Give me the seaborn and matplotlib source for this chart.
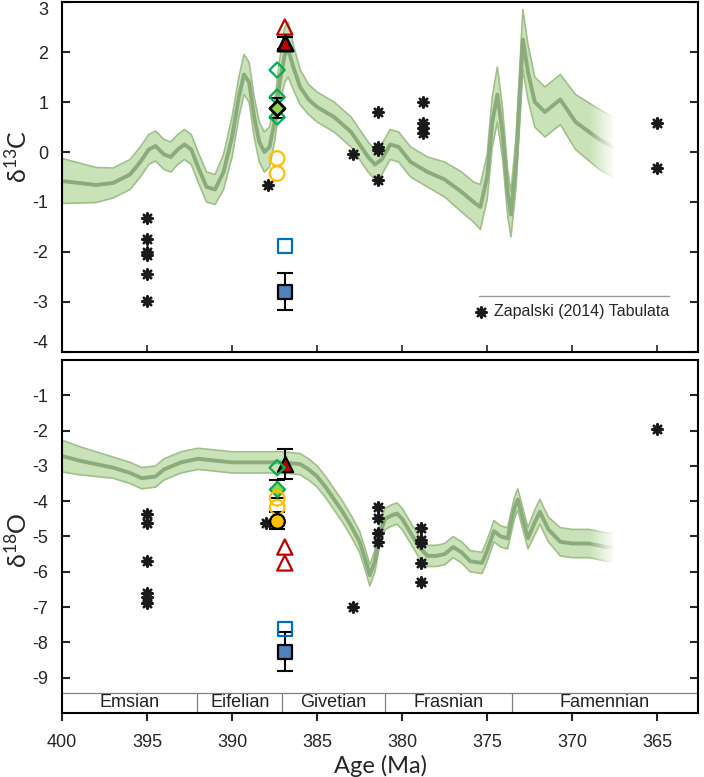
import matplotlib
matplotlib.use("Agg")
import matplotlib.pyplot as plt
import seaborn as sns
import numpy as np

# curba d13C (varsta Ma, centru, semi-latime banda)
c_age = [400.0, 399.0, 398.0, 397.0, 396.0, 395.4, 394.9, 394.5, 394.0, 393.6, 393.2, 392.8,
         392.4, 392.0, 391.5, 391.0, 390.5, 390.0, 389.6, 389.3, 389.0, 388.7, 388.4, 388.1,
         387.8, 387.5, 387.2, 386.9, 386.7, 386.4, 386.0, 385.5, 385.0, 384.5, 384.0, 383.5,
         383.0, 382.5, 382.0, 381.6, 381.2, 380.7, 380.2, 379.5, 378.5, 377.5, 376.5, 375.8,
         375.4, 375.0, 374.7, 374.4, 374.1, 373.8, 373.6, 373.3, 372.9, 372.6, 372.2, 371.6,
         370.7, 369.8, 368.4, 367.6]
c_mid = [-0.58, -0.62, -0.66, -0.62, -0.45, -0.2, 0.05, 0.12, -0.05, -0.1, 0.05, 0.15,
         0.05, -0.3, -0.7, -0.75, -0.4, 0.3, 1.1, 1.55, 1.4, 0.7, 0.2, 0.0,
         0.1, 0.6, 1.4, 1.95, 2.05, 1.7, 1.3, 1.05, 0.9, 0.8, 0.7, 0.55,
         0.4, 0.15, -0.1, -0.25, -0.15, 0.15, 0.1, -0.2, -0.4, -0.55, -0.8, -1.0,
         -1.1, -0.5, 0.6, 1.15, 0.4, -0.8, -1.25, -0.2, 2.25, 1.6, 1.0, 0.8,
         1.05, 0.6, 0.25, 0.1]
c_hw = [0.45, 0.4, 0.35, 0.3, 0.3, 0.3, 0.3, 0.3, 0.3, 0.3, 0.3, 0.3,
        0.3, 0.3, 0.3, 0.3, 0.35, 0.4, 0.4, 0.4, 0.4, 0.4, 0.4, 0.4,
        0.4, 0.4, 0.45, 0.55, 0.55, 0.45, 0.35, 0.3, 0.3, 0.3, 0.3, 0.3,
        0.3, 0.3, 0.3, 0.3, 0.3, 0.3, 0.3, 0.3, 0.3, 0.35, 0.4, 0.4,
        0.45, 0.45, 0.5, 0.55, 0.5, 0.45, 0.45, 0.5, 0.6, 0.55, 0.5, 0.5,
        0.5, 0.55, 0.6, 0.6]

# curba d18O
o_age = [400.0, 399.0, 398.0, 397.0, 396.0, 395.3, 394.5, 394.0, 393.0, 392.0, 391.0, 390.0,
         389.0, 388.0, 387.0, 386.0, 385.5, 385.0, 384.5, 384.0, 383.5, 383.0, 382.5, 382.2,
         381.9, 381.6, 381.3, 381.0, 380.6, 380.3, 380.0, 379.5, 379.0, 378.5, 378.0, 377.5,
         377.0, 376.5, 376.0, 375.3, 375.0, 374.6, 374.2, 373.8, 373.4, 373.2, 372.9, 372.6,
         372.2, 371.9, 371.4, 370.7, 370.0, 369.0, 368.0, 367.6]
o_mid = [-2.72, -2.85, -2.95, -3.05, -3.2, -3.35, -3.3, -3.1, -2.9, -2.8, -2.85, -2.9,
         -2.9, -2.9, -2.9, -2.95, -3.1, -3.3, -3.6, -3.95, -4.3, -4.7, -5.15, -5.6,
         -6.1, -5.7, -4.9, -4.5, -4.4, -4.35, -4.5, -4.9, -5.3, -5.55, -5.55, -5.5,
         -5.3, -5.45, -5.7, -5.75, -5.4, -4.85, -5.0, -5.05, -4.2, -3.95, -4.5, -5.05,
         -4.6, -4.3, -4.8, -5.15, -5.2, -5.2, -5.3, -5.3]
o_hw = [0.45, 0.4, 0.35, 0.3, 0.3, 0.3, 0.3, 0.3, 0.3, 0.3, 0.3, 0.3,
        0.3, 0.3, 0.3, 0.3, 0.3, 0.3, 0.3, 0.3, 0.3, 0.3, 0.3, 0.3,
        0.3, 0.3, 0.3, 0.3, 0.3, 0.3, 0.3, 0.3, 0.3, 0.3, 0.3, 0.3,
        0.3, 0.3, 0.3, 0.3, 0.3, 0.3, 0.3, 0.3, 0.3, 0.3, 0.3, 0.3,
        0.35, 0.35, 0.35, 0.4, 0.4, 0.4, 0.4, 0.4]

# Zapalski (2014) Tabulata
zc_age = [395, 395, 395, 395, 395, 395, 387.9, 382.9, 381.4, 381.4, 381.4, 381.4,
          378.8, 378.8, 378.8, 378.8, 365, 365]
zc_val = [-1.33, -1.75, -2.0, -2.06, -2.45, -2.98, -0.66, -0.03, 0.8, 0.1, 0.04, -0.56,
          1.0, 0.58, 0.48, 0.38, 0.58, -0.32]
zo_age = [395, 395, 395, 395, 395, 395, 388.0, 382.9, 381.4, 381.4, 381.4, 381.4,
          378.9, 378.9, 378.9, 378.9, 378.9, 365]
zo_val = [-4.35, -4.62, -5.7, -6.6, -6.72, -6.88, -4.63, -7.0, -4.17, -4.48, -4.9, -5.15,
          -4.76, -5.1, -5.19, -5.75, -6.3, -1.96]

# probe proprii (valori)
tri_open_c = [2.5]
tri_fill_c = [2.18]
dia_open_c = [1.64, 1.1, 0.7]
dia_fill_c = [0.88]
circ_open_c = [-0.13, -0.43]
sq_open_c = [-1.88]
sq_fill_c = [-2.8]

tri_fill_o = [-2.95]
dia_open_o = [-3.05]
dia_fill_o = [-3.65]
circ_open_o = [-3.92, -4.17]
circ_fill_o = [-4.55]
tri_open_o = [-5.3, -5.75]
sq_open_o = [-7.63]
sq_fill_o = [-8.27]

age_a = 386.9
age_b = 387.35

stages = ["Emsian", "Eifelian", "Givetian", "Frasnian", "Famennian"]
stage_edges = [400.0, 392.05, 387.05, 381.0, 373.55, 362.6]

sns.set_style("ticks")
plt.rcParams["font.family"] = ["Liberation Sans", "DejaVu Sans"]
plt.rcParams["mathtext.default"] = "regular"

fig = plt.figure(figsize=(7.04, 7.77), dpi=100)
ax1 = fig.add_axes([0.0881, 0.5470, 0.9034, 0.4504])
ax2 = fig.add_axes([0.0881, 0.0824, 0.9034, 0.4543])

band_fill = "#c9e2b8"
band_edge = "#9fc08a"
mid_col = "#8cab7c"


def draw_band(ax, age, mid, hw, y0, y1):
    mid = np.array(mid)
    hw = np.array(hw)
    ax.fill_between(age, mid - hw, mid + hw, color=band_fill, lw=0, zorder=1)
    ax.plot(age, mid + hw, color=band_edge, lw=1.2, zorder=2)
    ax.plot(age, mid - hw, color=band_edge, lw=1.2, zorder=2)
    sns.lineplot(x=age, y=mid, ax=ax, color=mid_col, lw=2.8, zorder=3, sort=False)
    # estompare spre alb la capat
    grad = np.zeros((2, 100, 4))
    grad[..., :3] = 1.0
    grad[..., 3] = np.linspace(0, 1, 100)
    ax.imshow(grad, extent=[369.0, 367.5, y0, y1], aspect="auto", zorder=4,
              interpolation="bilinear")


draw_band(ax1, c_age, c_mid, c_hw, -2.5, 2.95)
draw_band(ax2, o_age, o_mid, o_hw, -6.5, -3.0)
ax1.set_ylim(-4, 3)
ax2.set_ylim(-10, 0)
ax1.set_xlim(400, 362.6)
ax2.set_xlim(400, 362.6)

star = (8, 2, 0)
sns.scatterplot(x=zc_age, y=zc_val, ax=ax1, marker=star, s=55, color="#1a1a1a",
                linewidth=1.8, zorder=5, label="Zapalski (2014) Tabulata")
sns.scatterplot(x=zo_age, y=zo_val, ax=ax2, marker=star, s=55, color="#1a1a1a",
                linewidth=1.8, zorder=5)

red = "#c00000"
green = "#00b050"
lgreen = "#92d050"
yellow = "#ffc000"
blue = "#0070c0"
lblue = "#4f81bd"


def pts(ax, x, y, marker, s, face, edge, lw=1.6):
    sns.scatterplot(x=[x] * len(y), y=y, ax=ax, marker=marker, s=s,
                    facecolor=face, edgecolor=edge, linewidth=lw, zorder=7)


def ebar(ax, x, y, err):
    ax.errorbar([x], y, yerr=err, fmt="none", ecolor="black", elinewidth=1.5,
                capsize=6, capthick=1.5, zorder=6)


# panou d13C
pts(ax1, age_a, tri_open_c, "^", 120, "none", red)
ebar(ax1, age_a, tri_fill_c, 0.12)
pts(ax1, age_a, tri_fill_c, "^", 120, red, "black", 2)
pts(ax1, age_b, dia_open_c, "D", 60, "none", green)
ebar(ax1, age_b, dia_fill_c, 0.2)
pts(ax1, age_b, dia_fill_c, "D", 60, lgreen, "black", 2)
pts(ax1, age_b, circ_open_c, "o", 110, "none", yellow)
pts(ax1, age_a, sq_open_c, "s", 100, "none", blue)
ebar(ax1, age_a, sq_fill_c, 0.37)
pts(ax1, age_a, sq_fill_c, "s", 100, lblue, "black", 1.6)

# panou d18O
ebar(ax2, age_a, tri_fill_o, 0.42)
pts(ax2, age_a, tri_fill_o, "^", 120, red, "black", 1.6)
pts(ax2, age_b, dia_open_o, "D", 60, "none", green)
ebar(ax2, age_b, dia_fill_o, 0.25)
pts(ax2, age_b, dia_fill_o, "D", 60, lgreen, green, 1.6)
pts(ax2, age_b, circ_open_o, "o", 110, "none", yellow)
ebar(ax2, age_b, circ_fill_o, 0.25)
pts(ax2, age_b, circ_fill_o, "o", 110, yellow, "black", 1.6)
pts(ax2, age_a, tri_open_o, "^", 120, "none", red)
pts(ax2, age_a, sq_open_o, "s", 100, "none", blue)
ebar(ax2, age_a, sq_fill_o, 0.55)
pts(ax2, age_a, sq_fill_o, "s", 100, lblue, "black", 1.6)

# bara cu etaje
ax2.axhline(-9.42, color="#808080", lw=0.9, zorder=8)
ax2.vlines(stage_edges[1:-1], -10, -9.42, color="#808080", lw=0.9, zorder=8)
for i, name in enumerate(stages):
    ax2.text((stage_edges[i] + stage_edges[i + 1]) / 2, -9.71, name, ha="center",
             va="center", fontsize=13, color="#222222", zorder=9)

# axe
for ax in (ax1, ax2):
    for sp in ax.spines.values():
        sp.set_visible(True)
        sp.set_color("black")
        sp.set_linewidth(1.5)
        sp.set_zorder(20)
    ax.tick_params(axis="y", direction="in", left=True, right=True, length=6,
                   width=1.5, labelsize=13, pad=10)
    ax.set_xticks([400, 395, 390, 385, 380, 375, 370, 365])

ax1.set_yticks([3, 2, 1, 0, -1, -2, -3, -4])
ax1.set_yticklabels(["3", "2", "1", "0", "-1", "-2", "-3", "-4"])
ax1.get_yticklabels()[0].set_va("top")
ax1.get_yticklabels()[-1].set_va("bottom")
ax1.tick_params(axis="x", direction="in", length=5, width=1.2, labelbottom=False)
ax2.set_yticks([-1, -2, -3, -4, -5, -6, -7, -8, -9])
ax2.set_yticklabels(["-1", "-2", "-3", "-4", "-5", "-6", "-7", "-8", "-9"])
ax2.tick_params(axis="x", direction="out", length=6, width=1.5, labelsize=13, pad=9)
ax2.set_xticklabels(["400", "395", "390", "385", "380", "375", "370", "365"])

lab_font = ["Lato", "DejaVu Sans"]
ax1.set_ylabel(r"δ$^{13}$C", fontsize=18, family=lab_font)
ax2.set_ylabel(r"δ$^{18}$O", fontsize=18, family=lab_font)
ax1.yaxis.set_label_coords(-0.0487, 0.56)
ax2.yaxis.set_label_coords(-0.0487, 0.49)
ax2.set_xlabel("Age (Ma)", fontsize=17, family=lab_font, labelpad=3)

# legenda
ax1.plot([0.655, 0.955], [0.16, 0.16], transform=ax1.transAxes, color="#9a9a9a", lw=1,
         zorder=10)
ax1.legend(loc="lower right", bbox_to_anchor=(0.965, 0.075), frameon=False, fontsize=11.5,
           handletextpad=0.3, handlelength=1.0, markerscale=1.0, borderaxespad=0)

fig.savefig("out.png", dpi=100)
